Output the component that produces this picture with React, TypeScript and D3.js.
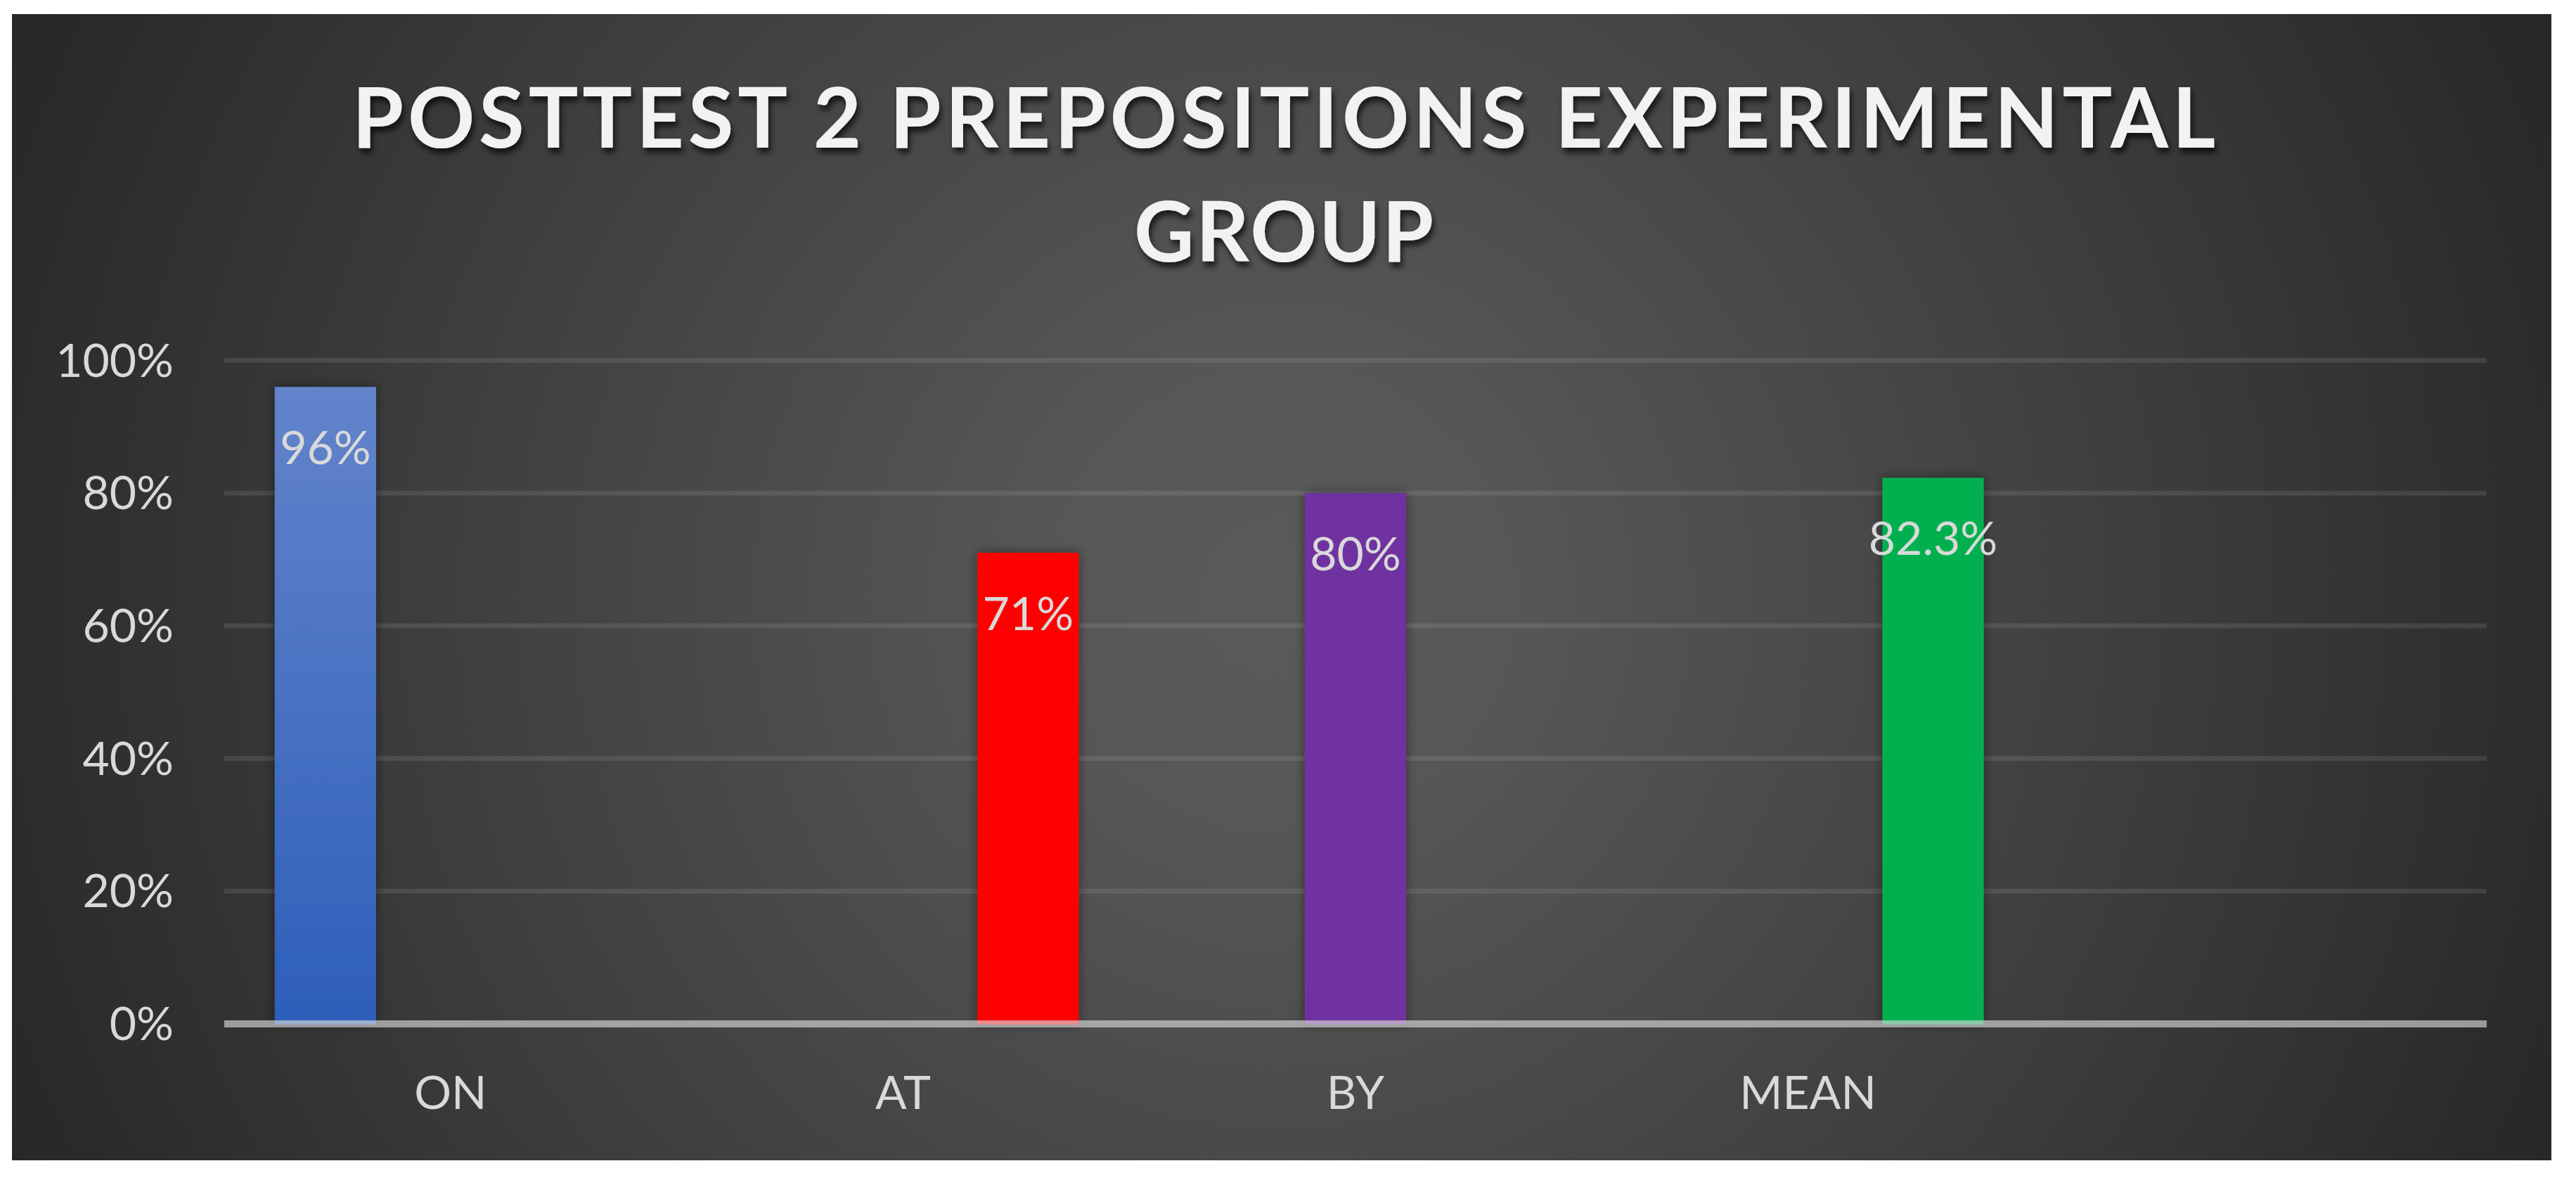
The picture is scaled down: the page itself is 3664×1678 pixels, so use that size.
import React, { useRef, useEffect } from 'react';
import * as d3 from 'd3';

// Categories on the x axis (the last slot is left empty, as in the source chart).
const categories = ["ON", "AT", "BY", "MEAN", ""];
// Three series slots per category; each category only fills one of them.
const seriesSlots = ["S1", "S2", "S3"];
const series1 = [0.96, null, null, null, null];
const series2 = [null, null, 0.80, null, null];
const series3 = [null, 0.71, null, 0.823, null];
// One colour per category bar.
const barColors = ["url(#onGrad)", "#FF0000", "#7030A0", "#00B050", "#000000"];
const yTicks = [0, 0.2, 0.4, 0.6, 0.8, 1.0];
const titleLines = ["POSTTEST 2 PREPOSITIONS EXPERIMENTAL", "GROUP"];

const W = 3664;
const H = 1678;

const App = () => {
  const ref = useRef<SVGSVGElement>(null);

  useEffect(() => {
    document.body.style.margin = '0';
    const svg = d3.select(ref.current);
    svg.selectAll('*').remove();

    const frame = { x0: 17, y0: 20, x1: 3629, y1: 1650 };
    const plot = { left: 319, right: 3537, top: 512.5, bottom: 1456 };
    const font = 'Lato, "Open Sans", sans-serif';
    const labelColor = '#D9D9D9';

    const defs = svg.append('defs');

    // Background radial gradient (lighter centre, dark edges).
    const bg = defs.append('radialGradient')
      .attr('id', 'bgGrad')
      .attr('gradientUnits', 'userSpaceOnUse')
      .attr('cx', 1822).attr('cy', 850).attr('r', 2120);
    [[0, '#5a5a5a'], [0.15, '#575757'], [0.55, '#3f3f3f'], [0.9, '#292929'], [1, '#262626']]
      .forEach(([o, c]) => bg.append('stop').attr('offset', o as number).attr('stop-color', c as string));

    const onGrad = defs.append('linearGradient')
      .attr('id', 'onGrad').attr('x1', 0).attr('y1', 0).attr('x2', 0).attr('y2', 1);
    onGrad.append('stop').attr('offset', 0).attr('stop-color', '#6384CB');
    onGrad.append('stop').attr('offset', 1).attr('stop-color', '#2D5FBA');

    const barShadow = defs.append('filter').attr('id', 'barShadow')
      .attr('x', '-20%').attr('y', '-5%').attr('width', '140%').attr('height', '110%');
    barShadow.append('feDropShadow')
      .attr('dx', 0).attr('dy', 0).attr('stdDeviation', 8)
      .attr('flood-color', '#000').attr('flood-opacity', 0.45);

    const textShadow = defs.append('filter').attr('id', 'textShadow')
      .attr('x', '-5%').attr('y', '-20%').attr('width', '110%').attr('height', '150%');
    textShadow.append('feDropShadow')
      .attr('dx', 3).attr('dy', 7).attr('stdDeviation', 4)
      .attr('flood-color', '#000').attr('flood-opacity', 0.7);

    svg.append('rect')
      .attr('x', frame.x0).attr('y', frame.y0)
      .attr('width', frame.x1 - frame.x0).attr('height', frame.y1 - frame.y0)
      .attr('fill', 'url(#bgGrad)');

    // Scales
    const x0 = d3.scaleBand<string>().domain(categories).range([plot.left, plot.right]);
    const bw = x0.bandwidth();
    const x1 = d3.scaleBand<string>().domain(seriesSlots)
      .range([bw * 0.1116, bw * 0.8884]).paddingInner(0.19);
    const y = d3.scaleLinear().domain([0, 1]).range([plot.bottom, plot.top]);

    // Gridlines
    svg.append('g').selectAll('line')
      .data(yTicks.filter(t => t > 0))
      .join('line')
      .attr('x1', plot.left).attr('x2', plot.right)
      .attr('y1', d => y(d)).attr('y2', d => y(d))
      .attr('stroke', 'rgba(217,217,217,0.12)')
      .attr('stroke-width', 7);

    // Flatten bars
    const allSeries = [series1, series2, series3];
    const bars: { cat: string; slot: string; value: number; color: string }[] = [];
    allSeries.forEach((s, si) => {
      s.forEach((v, ci) => {
        if (v != null) bars.push({ cat: categories[ci], slot: seriesSlots[si], value: v, color: barColors[ci] });
      });
    });

    svg.append('g').selectAll('rect')
      .data(bars)
      .join('rect')
      .attr('x', d => (x0(d.cat) as number) + (x1(d.slot) as number))
      .attr('y', d => y(d.value))
      .attr('width', x1.bandwidth())
      .attr('height', d => y(0) - y(d.value) + 1)
      .attr('fill', d => d.color)
      .attr('filter', 'url(#barShadow)');

    // Category axis line
    svg.append('line')
      .attr('x1', plot.left).attr('x2', plot.right)
      .attr('y1', y(0)).attr('y2', y(0))
      .attr('stroke', 'rgba(217,217,217,0.64)')
      .attr('stroke-width', 10);

    // Data labels
    const pct = d3.format('.3~p');
    svg.append('g').selectAll('text')
      .data(bars)
      .join('text')
      .attr('x', d => (x0(d.cat) as number) + (x1(d.slot) as number) + x1.bandwidth() / 2)
      .attr('y', d => y(d.value) + 110)
      .attr('text-anchor', 'middle')
      .attr('font-family', font)
      .attr('font-size', 66)
      .attr('fill', labelColor)
      .text(d => pct(d.value));

    // Y axis labels
    const yFmt = d3.format('.0%');
    svg.append('g').selectAll('text')
      .data(yTicks)
      .join('text')
      .attr('x', 247)
      .attr('y', d => y(d) + 23)
      .attr('text-anchor', 'end')
      .attr('font-family', font)
      .attr('font-size', 66)
      .attr('fill', labelColor)
      .text(d => yFmt(d));

    // X axis labels
    svg.append('g').selectAll('text')
      .data(categories.filter(c => c !== ''))
      .join('text')
      .attr('x', d => (x0(d) as number) + bw / 2)
      .attr('y', 1577)
      .attr('text-anchor', 'middle')
      .attr('font-family', font)
      .attr('font-size', 66)
      .attr('fill', labelColor)
      .text(d => d);

    // Title
    const titleCx = 1826;
    const titleBase = [210, 372];
    const titleWidth = [2650, 426];
    svg.append('g').attr('filter', 'url(#textShadow)')
      .selectAll('text')
      .data(titleLines)
      .join('text')
      .attr('x', titleCx)
      .attr('y', (d, i) => titleBase[i])
      .attr('text-anchor', 'middle')
      .attr('font-family', font)
      .attr('font-weight', 700)
      .attr('font-size', 118)
      .attr('fill', '#F2F2F2')
      .attr('textLength', (d, i) => titleWidth[i])
      .attr('lengthAdjust', 'spacing')
      .text(d => d);
  }, []);

  return <svg ref={ref} width={W} height={H} style={{ display: 'block', background: '#fff' }}></svg>;
};

export default App;
